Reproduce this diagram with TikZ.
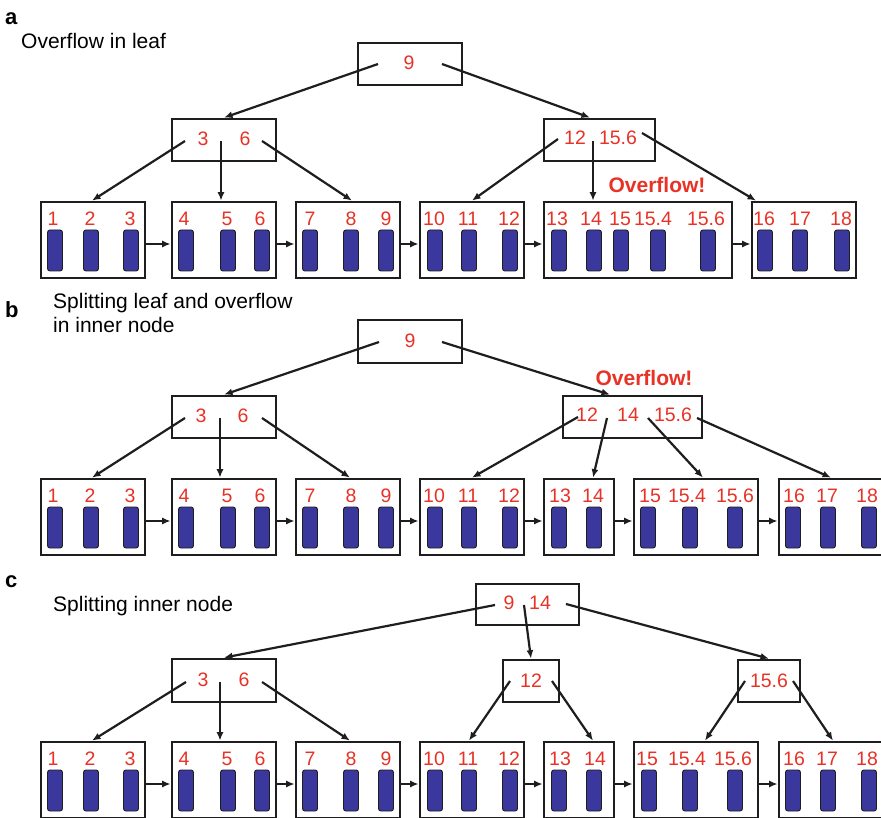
\documentclass[tikz,border=0pt]{standalone}
\usepackage{fontspec}
\setmainfont{Liberation Sans}
\usetikzlibrary{arrows.meta,calc}

\definecolor{keyred}{RGB}{232,50,38}
\definecolor{barblue}{RGB}{58,56,156}
\definecolor{ink}{RGB}{30,30,30}

\tikzset{
  box/.style={draw=ink,line width=2.7pt,rectangle,inner sep=0pt,fill=white},
  key/.style={text=keyred,font=\fontsize{19.5}{22}\selectfont,inner sep=0pt,anchor=center},
  slot/.style={draw=ink,line width=0.9pt,fill=barblue,rounded corners=2.5pt,
               minimum width=15pt,minimum height=41pt,inner sep=0pt},
  arr/.style={draw=ink,line width=2.2pt,-{Latex[length=8.5pt,width=7pt]}},
  panel/.style={font=\bfseries\fontsize{22}{26}\selectfont,anchor=base west,inner sep=0pt},
  caption/.style={font=\fontsize{21}{25}\selectfont,anchor=base west,inner sep=0pt,align=left},
  warn/.style={text=keyred,font=\bfseries\fontsize{21}{24}\selectfont,inner sep=0pt},
}

% a box given by its corners: name, x1, y1, x2, y2
\newcommand\boxat[5]{%
  \node[box,minimum width={#4-#2},minimum height={#5-#3}] (#1) at ({(#2+#4)/2},{(#3+#5)/2}) {};}

% a leaf page: name, left, right, top, list of slot-x/key-x/key
\newcommand\leafpage[5]{%
  \boxat{#1}{#2}{#4}{#3}{#4+76}
  \foreach \bx/\lx/\t [count=\i] in {#5}{
    \node[slot] (#1-s\i) at (\bx,{#4+48.5}) {};
    \node[key] (#1-k\i) at (\lx,{#4+17}) {\t};
  }}

\begin{document}
\begin{tikzpicture}[x=1pt,y=-1pt]
\clip (0,0) rectangle (881,818);
\fill[white] (0,0) rectangle (881,818);

% ---------------- (a) overflow in leaf ----------------
\node[panel] (la) at (5,25) {a};
\node[caption] (ca) at (21,49) {Overflow in leaf};

\boxat{aRoot}{358}{43}{462}{85}
\node[key] (aRoot-k1) at (409,63) {9};
\boxat{aInL}{172}{119}{276}{161}
\node[key] (aInL-k1) at (203,139) {3};
\node[key] (aInL-k2) at (245,139) {6};
\boxat{aInR}{544}{119}{655}{161}
\node[key] (aInR-k1) at (575,138) {12};
\node[key] (aInR-k2) at (618,138) {15.6};
\node[warn] (aWarn) at (657,185) {Overflow!};

\leafpage{aL1}{41}{145}{202}{55/53/1,91/90/2,131/130/3}
\leafpage{aL2}{172}{276}{202}{186/184/4,228/227/5,262/260/6}
\leafpage{aL3}{296}{400}{202}{310/310/7,351/351/8,386/386/9}
\leafpage{aL4}{420}{524}{202}{435/434/10,469/468/11,510/509/12}
\leafpage{aL5}{544}{732}{202}{559/557/13,594/591/14,621/620/15,658/653/15.4,708/706/15.6}
\leafpage{aL6}{752}{856}{202}{765/764/16,800/800/17,842/841/18}

\coordinate (aRoot-l) at (378,64);
\coordinate (aRoot-r) at (442,64);
\coordinate (aInL-l) at (185,141);
\coordinate (aInL-m) at (221,141);
\coordinate (aInL-r) at (262,141);
\coordinate (aInR-l) at (558,139);
\coordinate (aInR-m) at (593,141);
\coordinate (aInR-r) at (642,133);

\draw[arr] (aRoot-l) -- (aInL.north);
\draw[arr] (aRoot-r) -- ([xshift=-9.5]aInR.north);
\draw[arr] (aInL-l) -- ([xshift=-1]aL1.north);
\draw[arr] (aInL-m) -- ([xshift=-3]aL2.north);
\draw[arr] (aInL-r) -- ([xshift=4]aL3.north);
\draw[arr] (aInR-l) -- (aL4.north);
\draw[arr] (aInR-m) -- ([xshift=-45]aL5.north);
\draw[arr] (aInR-r) -- ([xshift=-48]aL6.north);
\foreach \p/\q in {aL1/aL2,aL2/aL3,aL3/aL4,aL4/aL5,aL5/aL6}
  \draw[arr] ($(\p.east)+(0,4)$) -- ($(\q.west)+(0,4)$);

% ---------------- (b) splitting leaf ----------------
\node[panel] (lb) at (5,318) {b};
\node[caption] (cb) at (53,333) {Splitting leaf and overflow\\[-1pt]in inner node};

\boxat{bRoot}{358}{320}{462}{363}
\node[key] (bRoot-k1) at (410,341) {9};
\boxat{bInL}{172}{396}{276}{438}
\node[key] (bInL-k1) at (201,416) {3};
\node[key] (bInL-k2) at (243,416) {6};
\boxat{bInR}{563}{396}{702}{438}
\node[key] (bInR-k1) at (587,415) {12};
\node[key] (bInR-k2) at (628,415) {14};
\node[key] (bInR-k3) at (673,415) {15.6};
\node[warn] (bWarn) at (644,378) {Overflow!};

\leafpage{bL1}{41}{145}{479}{55/53/1,91/90/2,131/130/3}
\leafpage{bL2}{172}{276}{479}{186/184/4,228/227/5,262/260/6}
\leafpage{bL3}{296}{400}{479}{310/310/7,351/351/8,386/386/9}
\leafpage{bL4}{420}{524}{479}{435/434/10,469/468/11,510/509/12}
\leafpage{bL5}{544}{614}{479}{559/560/13,594/593/14}
\leafpage{bL6}{634}{758}{479}{648/650/15,690/687/15.4,735/735/15.6}
\leafpage{bL7}{779}{883}{479}{793/794/16,828/827/17,869/867/18}

\coordinate (bRoot-l) at (379,342);
\coordinate (bRoot-r) at (442,342);
\coordinate (bInL-l) at (185,418);
\coordinate (bInL-m) at (220,418);
\coordinate (bInL-r) at (262,418);
\coordinate (bInR-1) at (578,417);
\coordinate (bInR-2) at (607,418);
\coordinate (bInR-3) at (648,418);
\coordinate (bInR-4) at (697,418);

\draw[arr] (bRoot-l) -- (bInL.north);
\draw[arr] (bRoot-r) -- ([xshift=-22.5]bInR.north);
\draw[arr] (bInL-l) -- ([xshift=-1]bL1.north);
\draw[arr] (bInL-m) -- ([xshift=-4]bL2.north);
\draw[arr] (bInL-r) -- ([xshift=2]bL3.north);
\draw[arr] (bInR-1) -- (bL4.north);
\draw[arr] (bInR-2) -- ([xshift=14]bL5.north);
\draw[arr] (bInR-3) -- ([xshift=7]bL6.north);
\draw[arr] (bInR-4) -- (bL7.north);
\foreach \p/\q in {bL1/bL2,bL2/bL3,bL3/bL4,bL4/bL5,bL5/bL6,bL6/bL7}
  \draw[arr] ($(\p.east)+(0,4)$) -- ($(\q.west)+(0,4)$);

% ---------------- (c) splitting inner node ----------------
\node[panel] (lc) at (5,587) {c};
\node[caption] (cc) at (53,611) {Splitting inner node};

\boxat{cRoot}{476}{584}{579}{625}
\node[key] (cRoot-k1) at (509,603) {9};
\node[key] (cRoot-k2) at (540,603) {14};
\boxat{cInL}{172}{659}{276}{702}
\node[key] (cInL-k1) at (203,680) {3};
\node[key] (cInL-k2) at (244,680) {6};
\boxat{cInM}{503}{660}{559}{702}
\node[key] (cInM-k1) at (531,681) {12};
\boxat{cInR}{738}{660}{800}{702}
\node[key] (cInR-k1) at (769,681) {15.6};

\leafpage{cL1}{41}{145}{742}{55/53/1,91/90/2,131/130/3}
\leafpage{cL2}{172}{276}{742}{186/184/4,228/227/5,262/260/6}
\leafpage{cL3}{296}{400}{742}{310/310/7,351/351/8,386/386/9}
\leafpage{cL4}{420}{524}{742}{435/434/10,469/468/11,510/509/12}
\leafpage{cL5}{544}{614}{742}{559/560/13,594/595/14}
\leafpage{cL6}{634}{758}{742}{649/647/15,690/687/15.4,735/733/15.6}
\leafpage{cL7}{779}{883}{742}{793/794/16,828/827/17,869/867/18}

\coordinate (cRoot-l) at (495,605);
\coordinate (cRoot-m) at (524,605);
\coordinate (cRoot-r) at (566,604);
\coordinate (cInL-l) at (186,682);
\coordinate (cInL-m) at (220,682);
\coordinate (cInL-r) at (262,682);
\coordinate (cInM-l) at (510,681);
\coordinate (cInM-r) at (552,681);
\coordinate (cInR-l) at (745,681);
\coordinate (cInR-r) at (793,681);

\draw[arr] (cRoot-l) -- (cInL.north);
\draw[arr] (cRoot-m) -- (cInM.north);
\draw[arr] (cRoot-r) -- (cInR.north);
\draw[arr] (cInL-l) -- ([xshift=-1]cL1.north);
\draw[arr] (cInL-m) -- ([xshift=-4]cL2.north);
\draw[arr] (cInL-r) -- ([xshift=2]cL3.north);
\draw[arr] (cInM-l) -- ([xshift=-3]cL4.north);
\draw[arr] (cInM-r) -- ([xshift=14]cL5.north);
\draw[arr] (cInR-l) -- ([xshift=9]cL6.north);
\draw[arr] (cInR-r) -- ([xshift=2]cL7.north);
\foreach \p/\q in {cL1/cL2,cL2/cL3,cL3/cL4,cL4/cL5,cL5/cL6,cL6/cL7}
  \draw[arr] ($(\p.east)+(0,4)$) -- ($(\q.west)+(0,4)$);
\end{tikzpicture}
\end{document}
